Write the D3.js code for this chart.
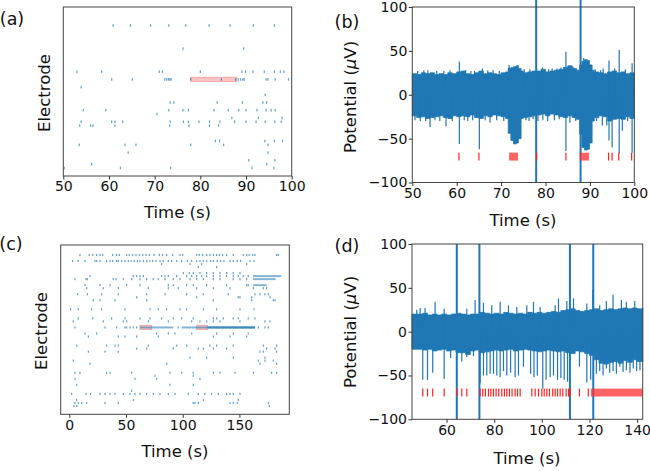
<!DOCTYPE html>
<html>
<head>
<meta charset="utf-8">
<script src="https://cdn.jsdelivr.net/npm/d3@7"></script>
<style>
  body { margin: 0; background: #fff; }
  svg { display: block; font-family: "DejaVu Sans", sans-serif; }
</style>
</head>
<body>
<div id="container"></div>
<script>
/**
 * DATA
 * */

// (a) raster, 50-100 s
const rowsA = [37, 31, 25, 23, 21, 19, 17, 15, 14, 13, 12, 11, 7, 6, 4, 2, 1, 0];
const timesA = [
  [60.9, 64.7, 69.1, 73.1, 76.8, 81.9, 86.5, 91.6, 96.2],
  [76.2, 89.5],
  [53.0, 58.4, 71.0, 71.7, 80.0, 89.1, 89.9, 91.5, 94.0, 96.2, 97.5, 98.3],
  [60.6, 65.1, 72.2, 72.6, 73.0, 73.3, 73.6, 77.9, 84.6, 87.7, 88.3, 88.8, 89.3, 89.6, 94.4, 94.8, 96.4, 99.3],
  [53.9],
  [94.2],
  [73.4, 74.2, 83.7, 89.2, 93.7, 94.5],
  [54.4, 59.3, 73.1, 76.2, 77.4, 83.0, 86.1, 88.4, 90.0, 92.4, 94.4, 95.5, 96.4],
  [70.5],
  [86.9, 92.7, 97.9],
  [53.9, 60.6, 61.3, 63.0, 73.4, 76.3, 77.4, 79.7, 82.0, 84.3, 87.5, 90.0, 92.2, 94.2, 96.3, 97.7],
  [53.6, 56.0, 56.5, 61.3, 73.3, 77.5, 82.0, 84.0],
  [83.3, 84.2, 94.1, 96.2, 98.0],
  [53.5, 63.5, 65.9, 77.9, 85.1, 94.8],
  [64.2, 94.8],
  [90.6, 96.3],
  [56.2, 94.5],
  [50.2, 62.5, 73.5, 91.3, 96.1]
];
const highlightA = [[23, 77.9, 88.0]];   // [electrode, start, end]

// (c) raster, whole recording
const rowsC = [50, 48, 47, 46, 44, 43, 42, 40, 39, 37, 36, 35, 32, 29, 28, 26, 24, 23, 20, 19, 18, 16, 15, 14, 11, 10, 9, 7, 5, 4, 2, 1, 0];
const timesC = [
  [9.4, 17.6, 20.6, 24.1, 27.0, 29.4, 38.2, 41.7, 44.1, 50.6, 52.9, 55.9, 58.8, 61.7, 64.7, 67.6, 70.5, 74.7, 79.4, 82.3, 85.8, 91.1, 97.6, 99.9, 112.3, 114.6, 117.6, 121.1, 124.0, 127.0, 129.9, 132.3, 135.2, 138.7, 144.6, 153.4, 156.4, 158.7, 161.7, 163.7, 182.8, 184.3],
  [2.9, 7.9, 13.8, 22.6, 24.1, 27.0, 32.9, 35.9, 38.2, 41.7, 43.2, 46.1, 49.1, 52.0, 54.4, 57.3, 60.0, 62.3, 65.3, 68.2, 71.1, 73.5, 76.4, 80.0, 82.9, 87.3, 90.2, 94.7, 99.1, 104.1, 107.9, 112.3, 115.2, 118.2, 121.1, 124.6, 127.0, 130.5, 133.5, 136.4, 141.7, 144.6, 148.1, 151.1, 159.3, 162.8],
  [81.4, 106.4, 116.7, 156.4],
  [113.8, 129.9],
  [100.5, 105.8, 109.3, 115.2, 121.1, 127.0, 132.9, 138.7, 144.6, 150.5],
  [18.2, 56.4, 59.4, 62.3, 65.3, 81.4, 84.4, 87.3, 94.7, 103.5, 107.9, 112.3, 116.7, 121.1, 127.0, 132.9, 138.7, 144.6, 149.0, 153.4, 157.8],
  [5.0, 14.7, 15.9, 38.8, 41.2, 47.6, 55.0, 62.3, 68.2, 74.1, 78.5, 84.4, 91.7, 97.6, 106.4, 112.3, 118.2, 127.0, 132.9, 144.6, 150.5, 156.4],
  [13.8, 27.0, 35.9, 50.6, 62.3, 87.3, 91.7, 103.5, 109.3, 121.1, 138.7, 156.4, 157.8],
  [15.3, 30.0, 43.2, 69.7, 87.3, 96.1, 112.3, 127.0, 141.7, 162.3, 171.1, 174.0],
  [7.3, 15.9, 28.5, 43.2, 68.2, 84.4, 103.5, 118.2, 140.2, 163.7, 168.1, 172.5, 175.5],
  [59.4, 112.3, 149.0, 150.5, 160.8, 177.0],
  [21.2, 27.0, 40.3, 68.2, 127.0, 160.8, 179.9, 181.4],
  [1.2, 7.9, 19.7, 28.5, 49.1, 71.1, 78.5, 85.8, 97.6, 103.5, 118.2, 129.9, 150.5, 162.8],
  [7.9, 20.6, 37.3, 49.1, 62.3, 71.1, 81.4, 91.7, 99.1, 109.3, 127.0, 129.9, 135.8, 144.6, 149.0, 157.8, 163.7],
  [3.5, 30.0, 47.6, 50.6, 69.7, 87.3, 107.9, 115.2, 121.1, 127.0, 132.9, 150.5, 172.5, 177.0],
  [5.0, 31.5, 41.7, 49.1, 50.6, 53.5, 56.4, 59.4, 96.1, 166.7, 172.6, 175.5],
  [13.8, 24.1, 77.0, 87.3, 93.2, 107.9, 129.9, 144.6, 157.8],
  [16.8, 43.2, 49.1, 59.4, 78.5, 127.0, 141.7, 156.4],
  [6.5, 32.9, 40.3, 43.2, 69.7, 94.7, 103.5, 124.0, 129.9, 144.6, 171.1, 182.8],
  [59.4, 68.2, 91.7, 113.8, 118.2, 127.0, 138.7, 174.0, 181.4],
  [16.8, 31.5, 43.2, 168.1, 171.1, 182.8],
  [106.4, 121.1, 144.6, 172.5],
  [3.5, 166.7, 172.5, 179.9],
  [18.2, 85.8, 168.1, 182.8],
  [5.0, 9.4, 32.9, 35.9, 55.0, 88.8, 99.1, 109.3, 127.0, 132.9, 146.1, 162.3, 178.4, 182.8],
  [75.5, 109.3],
  [5.0, 57.9, 77.0, 115.2],
  [6.5, 88.8, 109.3],
  [55.0],
  [2.1, 14.7, 18.8, 27.0, 31.5, 35.9, 40.3, 47.6, 53.5, 57.9, 62.3, 68.2, 74.1, 80.0, 87.3, 93.2, 104.9, 113.8, 119.6, 125.5, 131.4, 138.7, 141.7, 144.6, 150.5],
  [6.5, 56.4, 118.2, 149.0],
  [5.0, 7.9, 10.9, 15.3, 31.5, 43.2, 109.3, 110.8, 113.8, 141.7, 144.6, 148.1, 175.5],
  [4.1, 6.5, 176.4]
];
const trainsC = [[26, 62.3, 91.7], [26, 99.1, 121.7], [43, 162.0, 187.0], [42, 162.0, 182.0], [40, 162.0, 174.0]];
const burstsC = [[26, 121.7, 163.8]];
const highlightC = [[26, 62.3, 72.7], [26, 112.3, 121.7]];

// (b) trace, 50-100 s
const envTimeB = [50, 51, 52, 53, 54, 55, 56, 57, 58, 59, 60, 61, 62, 63, 64, 65, 66, 67, 68, 69, 70, 71,
  71.6, 72.2, 72.8, 73.4, 73.9, 74.5,
  75, 76, 77, 78, 79, 80, 81, 82, 83, 84, 85, 86, 87,
  87.7, 88.2, 88.8, 89.4, 89.9, 90.5,
  91, 92, 93, 94, 95, 96, 97, 98, 99, 100];
const envHighB = [24, 23, 25, 24, 25, 23, 24, 23, 25, 24, 26, 27, 24, 23, 25, 27, 24, 25, 24, 23, 25, 26,
  30, 31, 32, 33, 30, 27,
  25, 26, 27, 27, 29, 26, 27, 28, 29, 31, 33, 30, 28,
  34, 38, 40, 39, 34, 28,
  26, 25, 24, 26, 27, 25, 26, 24, 25, 24];
const envLowB = [-24, -26, -25, -27, -26, -25, -24, -26, -27, -24, -25, -24, -25, -23, -26, -27, -24, -25, -23, -24, -25, -27,
  -44, -52, -56, -55, -50, -27,
  -26, -25, -24, -23, -22, -24, -22, -23, -25, -26, -24, -26, -28,
  -45, -60, -63, -62, -55, -30,
  -26, -24, -25, -30, -28, -27, -28, -25, -27, -25];
const spikeTimeB = [50.6, 51.8, 53.0, 54.0, 55.1, 56.2, 57.6, 59.0, 60.6, 61.7, 62.5, 63.6, 65.1, 66.4, 67.5, 69.0, 70.6, 75.6, 76.3, 77.2, 78.3, 79.4, 80.5, 82.0, 83.1, 84.6, 85.5, 86.8, 91.5, 92.8, 93.8, 94.3, 95.0, 96.6, 97.3, 98.5, 99.5,
  51.2, 52.6, 53.5, 55.5, 57.1, 58.5, 60.6, 62.0, 63.2, 64.0, 65.8, 67.0, 68.2, 69.6, 71.8, 73.7, 75.2, 76.5, 78.0, 79.3, 80.7, 81.5, 82.6, 83.5, 84.6, 86.2, 88.6, 91.2, 92.4, 93.0, 94.3, 95.6, 96.6, 98.0, 99.5];
const spikePeakB = [-29, -30, -30, -37, -29, -30, -36, -30, -56, -29, -30, -29, -62, -29, -32, -29, -30, -29, -30, -28, -30, -29, -30, -29, -28, -64, -32, -30, -30, -35, -35, -52, -60, -67, -41, -30, -66,
  27, 28, 28, 27, 27, 28, 38, 28, 27, 27, 30, 28, 28, 27, 34, 33, 29, 29, 30, 31, 29, 30, 30, 31, 49, 32, 42, 29, 28, 30, 39, 30, 51, 29, 36];
const fullTimeB = [77.9, 87.9];
const fullTopB = 108;
const detectB = [60.5, 65.0, 78.0, 84.6, 94.2, 95.0, 96.5, 99.4];
const detectBlockB = [[71.8, 73.8], [87.7, 89.8]];

// (d) trace, 46-142 s
const envTimeD = [45.5, 48, 50, 52, 54, 56, 58, 60, 62, 64, 66, 68, 70, 72, 74, 76, 78, 80, 82, 84, 86, 88, 90,
  92, 94, 96, 98, 100, 102, 104, 106, 108, 110, 112, 114, 116, 118, 120, 122, 124, 126, 128, 130, 132, 134, 136, 138, 140, 142.4];
const envHighD = [20, 20, 21, 19, 20, 19, 20, 19, 20, 21, 20, 19, 20, 20, 22, 21, 20, 21, 20, 22, 21, 20, 21,
  20, 22, 21, 22, 21, 22, 23, 22, 24, 25, 26, 24, 23, 24, 25, 26, 24, 25, 26, 25, 26, 27, 26, 27, 26, 27];
const envLowD = [-20, -20, -21, -20, -22, -21, -20, -22, -21, -24, -24, -26, -22, -21, -24, -23, -22, -21, -22, -21, -20, -22, -21,
  -20, -21, -22, -23, -22, -21, -22, -23, -22, -24, -25, -22, -23, -25, -27, -32, -36, -37, -35, -34, -36, -33, -35, -32, -34, -32];
const spikeTimeD = [50.0, 52.0, 54.2, 59.0, 61.7, 66.4, 68.5, 71.3, 74.1, 75.5, 76.9, 78.3, 79.7, 81.1, 82.5, 83.9, 85.3, 86.9, 88.8, 90.2, 92.3, 95.3, 96.7, 98.1, 100.4, 101.8, 103.5, 104.9, 106.6, 108.0, 109.4, 110.8, 115.8, 118.9, 120.5,
  122.9, 124.3, 125.7, 127.1, 128.5, 129.9, 131.3, 132.7, 134.1, 135.5, 137.0, 138.4, 139.8, 141.2,
  47.5, 48.9, 51.0, 55.2, 59.0, 68.5, 72.0, 75.5, 79.0, 82.5, 86.0, 89.5, 93.7, 96.5, 99.3, 105.6, 107.0, 110.5, 113.3, 118.9, 121.4, 124.3, 127.1, 129.9, 133.4, 135.5, 139.0];
const spikePeakD = [-55, -55, -47, -54, -30, -34, -29, -28, -59, -50, -50, -48, -48, -50, -52, -45, -50, -47, -52, -50, -40, -48, -52, -50, -65, -55, -52, -50, -55, -53, -55, -57, -40, -58, -55,
  -48, -45, -50, -42, -47, -45, -48, -40, -46, -44, -47, -42, -45, -44,
  25, 27, 27, 34, 26, 26, 36, 33, 30, 34, 30, 28, 30, 34, 28, 30, 38, 35, 38, 32, 48, 30, 35, 42, 36, 34, 35];
const fullTimeD = [64.3, 73.8, 111.8, 121.6];
const fullTopD = 100;
const detectD = [50.0, 52.0, 54.2, 59.0, 64.3, 66.4, 68.5,
  74.1, 75.2, 76.3, 77.6, 78.6, 79.7, 80.8, 81.9, 83.2, 84.3, 85.3, 86.4, 87.5, 88.8, 89.8, 90.9,
  95.8, 97.2, 98.6, 100.0, 101.0, 102.1, 103.2, 104.6, 105.6, 106.6, 107.7, 108.8, 110.2, 111.2, 111.9,
  115.8, 119.5];
const detectBlockD = [[120.6, 142.3]];

/**
 * DRAWING
 * */
const width = 650, height = 471;
const blue = "#1f77b4";

const svg = d3.select("#container")
  .append("svg")
  .attr("width", width)
  .attr("height", height);

function styleAxis(g) {
  g.select(".domain").remove();
  g.selectAll(".tick line").attr("stroke", "#333");
  g.selectAll(".tick text").attr("font-size", 14).attr("fill", "#111")
    .attr("font-family", "DejaVu Sans, sans-serif");
}

function frame(box) {
  svg.append("rect")
    .attr("x", box.left).attr("y", box.top)
    .attr("width", box.right - box.left).attr("height", box.bottom - box.top)
    .attr("fill", "none").attr("stroke", "#444").attr("stroke-width", 1);
}

function label(txt, x, y, size, rotate) {
  const t = svg.append("text")
    .attr("text-anchor", "middle")
    .attr("font-size", size)
    .attr("fill", "#111");
  if (rotate) t.attr("transform", `translate(${x},${y}) rotate(-90)`);
  else t.attr("x", x).attr("y", y);
  return t.text(txt);
}

// y label with an italic mu, as matplotlib's mathtext gives it
function potentialLabel(x, y) {
  const t = svg.append("text")
    .attr("text-anchor", "middle")
    .attr("font-size", 16.5)
    .attr("fill", "#111")
    .attr("transform", `translate(${x},${y}) rotate(-90)`);
  t.append("tspan").text("Potential (");
  t.append("tspan").attr("font-style", "italic").text("\u03BC");
  t.append("tspan").text("V)");
}

function raster(cfg) {
  const x = d3.scaleLinear().domain(cfg.xDomain).range([cfg.left, cfg.right]);
  const y = d3.scaleLinear().domain(cfg.yDomain).range([cfg.bottom, cfg.top]);
  const g = svg.append("g");

  g.selectAll("rect.hl")
    .data(cfg.highlight)
    .join("rect")
    .attr("class", "hl")
    .attr("x", d => x(d[1]))
    .attr("width", d => x(d[2]) - x(d[1]))
    .attr("y", d => y(d[0]) - 2.2)
    .attr("height", 4.4)
    .attr("fill", "#f9c3c3")
    .attr("stroke", "#ee9999")
    .attr("stroke-width", 0.7);

  g.selectAll("rect.train")
    .data(cfg.trains)
    .join("rect")
    .attr("class", "train")
    .attr("x", d => x(d[1]))
    .attr("width", d => x(d[2]) - x(d[1]))
    .attr("y", d => y(d[0]) - 1)
    .attr("height", 2)
    .attr("fill", blue)
    .attr("opacity", 0.55);

  g.selectAll("rect.burst")
    .data(cfg.bursts)
    .join("rect")
    .attr("class", "burst")
    .attr("x", d => x(d[1]))
    .attr("width", d => x(d[2]) - x(d[1]))
    .attr("y", d => y(d[0]) - 1.2)
    .attr("height", 2.4)
    .attr("fill", blue)
    .attr("opacity", 0.85);

  const events = cfg.rows.flatMap((r, i) => cfg.times[i].map(t => [r, t]));
  g.selectAll("rect.ev")
    .data(events)
    .join("rect")
    .attr("class", "ev")
    .attr("x", d => x(d[1]) - 0.6)
    .attr("width", 1.2)
    .attr("y", d => y(d[0]) - cfg.tick / 2)
    .attr("height", cfg.tick)
    .attr("fill", blue)
    .attr("opacity", 0.7);

  frame(cfg);
  svg.append("g")
    .attr("transform", `translate(0,${cfg.bottom})`)
    .call(d3.axisBottom(x).tickValues(cfg.ticks).tickSize(3.5).tickPadding(2).tickFormat(d3.format("d")))
    .call(styleAxis);
}

function trace(cfg) {
  const x = d3.scaleLinear().domain(cfg.xDomain).range([cfg.left, cfg.right]);
  const y = d3.scaleLinear().domain([-100, 100]).range([cfg.bottom, cfg.top]);
  const g = svg.append("g");

  const area = d3.area()
    .curve(d3.curveStepAfter)
    .x((d, i) => x(cfg.envTime[i]))
    .y0((d, i) => y(cfg.envLow[i]))
    .y1((d, i) => y(cfg.envHigh[i]));
  g.append("path")
    .attr("d", area(cfg.envTime))
    .attr("fill", blue)
    .attr("stroke", blue)
    .attr("stroke-width", 0.8);

  g.selectAll("line.spike")
    .data(cfg.spikeTime)
    .join("line")
    .attr("class", "spike")
    .attr("x1", d => x(d)).attr("x2", d => x(d))
    .attr("y1", y(0))
    .attr("y2", (d, i) => y(cfg.spikePeak[i]))
    .attr("stroke", blue)
    .attr("stroke-width", 1.2);

  g.selectAll("line.full")
    .data(cfg.fullTime)
    .join("line")
    .attr("class", "full")
    .attr("x1", d => x(d)).attr("x2", d => x(d))
    .attr("y1", y(-100))
    .attr("y2", y(cfg.fullTop))
    .attr("stroke", blue)
    .attr("stroke-width", 2);

  g.selectAll("rect.detblock")
    .data(cfg.detectBlock)
    .join("rect")
    .attr("class", "detblock")
    .attr("x", d => x(d[0]))
    .attr("width", d => x(d[1]) - x(d[0]))
    .attr("y", y(cfg.detTop))
    .attr("height", y(cfg.detBottom) - y(cfg.detTop))
    .attr("fill", "#ff3030")
    .attr("opacity", 0.75);

  g.selectAll("line.det")
    .data(cfg.detect)
    .join("line")
    .attr("class", "det")
    .attr("x1", d => x(d)).attr("x2", d => x(d))
    .attr("y1", y(cfg.detTop))
    .attr("y2", y(cfg.detBottom))
    .attr("stroke", "#ff2020")
    .attr("stroke-width", 1.2);

  frame(cfg);
  svg.append("g")
    .attr("transform", `translate(0,${cfg.bottom})`)
    .call(d3.axisBottom(x).tickValues(cfg.ticks).tickSize(3.5).tickPadding(2).tickFormat(d3.format("d")))
    .call(styleAxis);
  svg.append("g")
    .attr("transform", `translate(${cfg.left},0)`)
    .call(d3.axisLeft(y).tickValues([-100, -50, 0, 50, 100]).tickSize(3.5).tickPadding(1.5).tickFormat(d3.format("d")))
    .call(styleAxis);
}

// (a)
raster({
  left: 63.3, right: 291.7, top: 7, bottom: 176,
  xDomain: [50, 100], yDomain: [-2.08, 41.8],
  ticks: [50, 60, 70, 80, 90, 100],
  rows: rowsA, times: timesA, highlight: highlightA, trains: [], bursts: [], tick: 2.6
});
label("Time (s)", 177.5, 218, 16.5);
label("Electrode", 50, 93, 16.5, true);
label("(a)", 12, 25, 17.5);

// (c)
raster({
  left: 60.7, right: 289.3, top: 245, bottom: 414.3,
  xDomain: [-7.6, 194.0], yDomain: [-2.75, 53.3],
  ticks: [0, 50, 100, 150],
  rows: rowsC, times: timesC, highlight: highlightC, trains: trainsC, bursts: burstsC, tick: 2.2
});
label("Time (s)", 175, 457, 16.5);
label("Electrode", 47, 331, 16.5, true);
label("(c)", 11, 250, 17.5);

// (b)
trace({
  left: 412.3, right: 634.3, top: 7, bottom: 182.5,
  xDomain: [50, 100], ticks: [50, 60, 70, 80, 90, 100],
  envTime: envTimeB, envHigh: envHighB, envLow: envLowB,
  spikeTime: spikeTimeB, spikePeak: spikePeakB,
  fullTime: fullTimeB, fullTop: fullTopB,
  detect: detectB, detectBlock: detectBlockB, detTop: -66, detBottom: -75
});
label("Time (s)", 523, 226, 16.5);
potentialLabel(356, 97);
label("(b)", 347, 28, 17.5);

// (d)
trace({
  left: 412, right: 642.7, top: 244, bottom: 419.3,
  xDomain: [45.5, 142.35], ticks: [60, 80, 100, 120, 140],
  envTime: envTimeD, envHigh: envHighD, envLow: envLowD,
  spikeTime: spikeTimeD, spikePeak: spikePeakD,
  fullTime: fullTimeD, fullTop: fullTopD,
  detect: detectD, detectBlock: detectBlockD, detTop: -65, detBottom: -74
});
label("Time (s)", 527, 464, 16.5);
potentialLabel(356, 332);
label("(d)", 347, 252, 17.5);
</script>
</body>
</html>
